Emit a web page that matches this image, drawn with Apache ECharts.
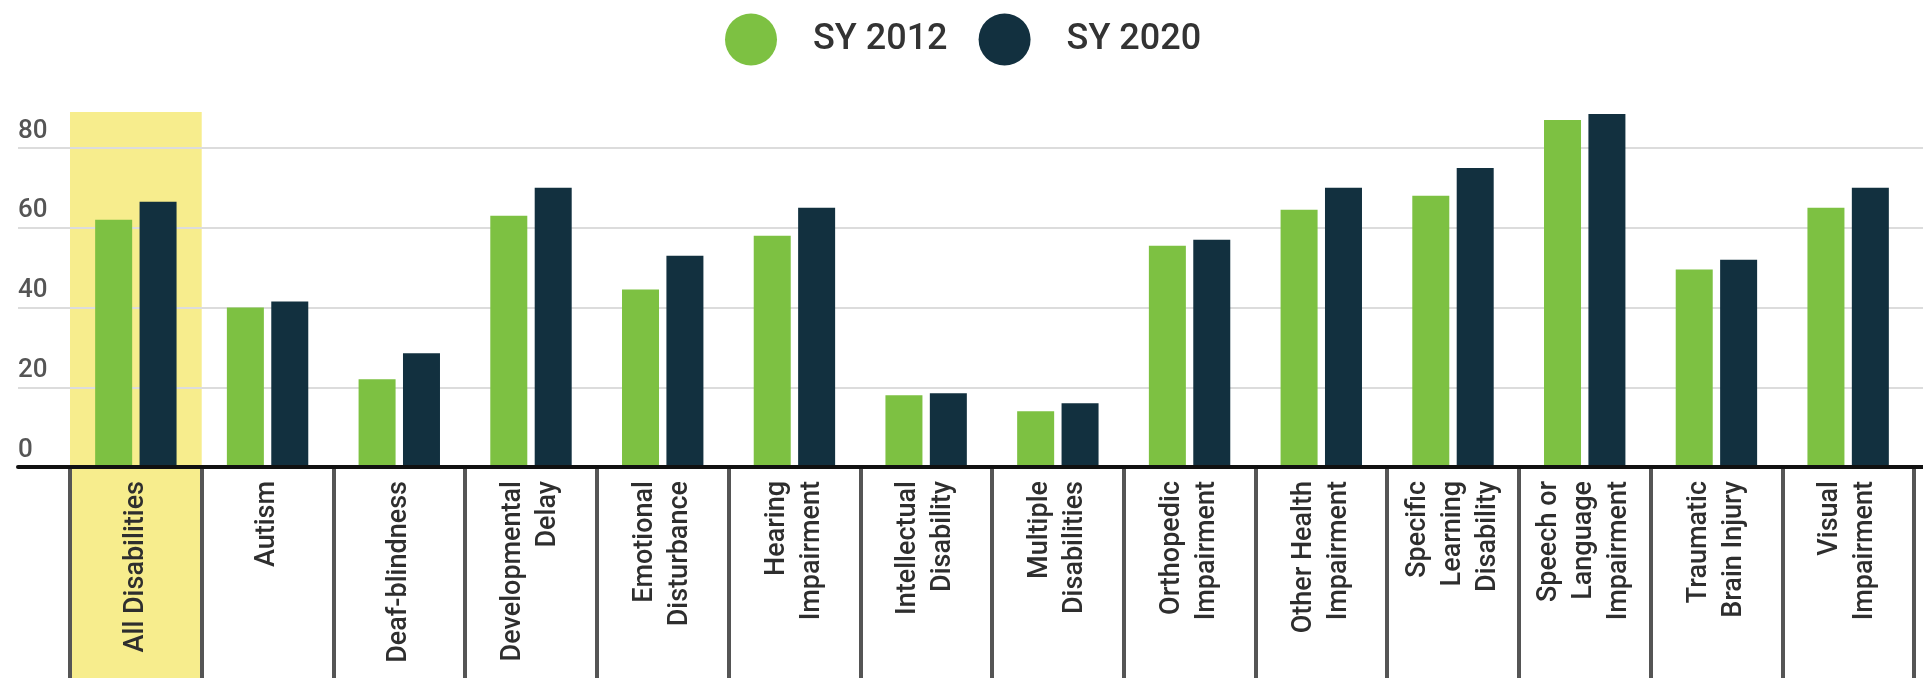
<!DOCTYPE html>
<html>
<head>
<meta charset="utf-8">
<script src="https://cdn.jsdelivr.net/npm/echarts@6/dist/echarts.min.js"></script>
<style>
  html, body { margin: 0; padding: 0; background: #ffffff; }
  #chart { width: 1923px; height: 678px; }
</style>
</head>
<body>
<div id="chart"></div>
<script>
// Disability categories (line breaks control the rotated label wrapping)
const categories = [
  'All Disabilities',
  'Autism',
  'Deaf-blindness',
  'Developmental\nDelay',
  'Emotional\nDisturbance',
  'Hearing\nImpairment',
  'Intellectual\nDisability',
  'Multiple\nDisabilities',
  'Orthopedic\nImpairment',
  'Other Health\nImpairment',
  'Specific\nLearning\nDisability',
  'Speech or\nLanguage\nImpairment',
  'Traumatic\nBrain Injury',
  'Visual\nImpairment'
];

// Series names and values (percent)
const seriesNames = ['SY 2012', 'SY 2020'];
const sy2012 = [62, 40, 22, 63, 44.5, 58, 18, 14, 55.5, 64.5, 68, 87, 49.5, 65];
const sy2020 = [66.5, 41.5, 28.5, 70, 53, 65, 18.5, 16, 57, 70, 75, 88.5, 52, 70];

// Value-axis ticks
const yTicks = [0, 20, 40, 60, 80];

// Category drawn with a highlighted column
const highlighted = ['All Disabilities'];

const GREEN = '#7dc142';
const NAVY = '#12303f';
const HIGHLIGHT = '#f7ed8d';
const FONT = 'Roboto, "Noto Sans", "DejaVu Sans", sans-serif';

const chart = echarts.init(document.getElementById('chart'), null, { renderer: 'canvas' });

const option = {
  backgroundColor: '#ffffff',
  animation: false,
  legend: {
    data: seriesNames,
    left: 725,
    top: 13.5,
    padding: 0,
    icon: 'circle',
    itemWidth: 52,
    itemHeight: 52,
    itemGap: 31,
    selectedMode: false,
    textStyle: {
      fontSize: 36, fontWeight: 500, color: '#333333', fontFamily: FONT,
      padding: [0, 0, 0, 31]
    }
  },
  grid: [
    // gridlines, value labels and the baseline
    { left: 18, right: 0, top: 148, bottom: 211, outerBoundsMode: 'none' },
    // bars and category boxes
    { left: 70, width: 1844, top: 108.1, bottom: 211, outerBoundsMode: 'none' },
    // highlight column, running down through the label box
    { left: 70, width: 1844, top: 112, bottom: 0, outerBoundsMode: 'none' }
  ],
  xAxis: [
    {
      gridIndex: 0, type: 'value', min: 0, max: 1, z: 5,
      axisLine: { show: true, onZero: false, lineStyle: { color: '#111111', width: 4 } },
      axisTick: { show: false }, axisLabel: { show: false }, splitLine: { show: false }
    },
    {
      gridIndex: 1, type: 'category', data: categories, z: 3,
      axisLine: { show: false },
      axisTick: { show: true, interval: 0, length: 230, lineStyle: { color: '#555555', width: 4 } },
      axisLabel: {
        interval: 0, rotate: 90, margin: 14,
        fontSize: 27, lineHeight: 35, fontWeight: 500,
        color: '#2e2e2e', fontFamily: FONT
      }
    },
    { gridIndex: 2, type: 'category', data: categories, show: false }
  ],
  yAxis: [
    {
      gridIndex: 0, type: 'value', z: 1,
      min: yTicks[0], max: yTicks[yTicks.length - 1], interval: yTicks[1] - yTicks[0],
      axisLine: { show: false }, axisTick: { show: false },
      splitLine: { show: true, lineStyle: { color: '#dcdcdc', width: 2 } },
      axisLabel: {
        inside: true, margin: 0, align: 'left',
        verticalAlign: 'bottom',
        verticalAlignMinLabel: 'bottom',
        verticalAlignMaxLabel: 'bottom',
        padding: [0, 0, 4, 0],
        fontSize: 26, fontWeight: 500, color: '#555555', fontFamily: FONT
      }
    },
    { gridIndex: 1, type: 'value', min: 0, max: 90, show: false },
    { gridIndex: 2, type: 'value', min: 0, max: 1, show: false }
  ],
  series: [
    {
      type: 'bar', xAxisIndex: 2, yAxisIndex: 2, z: 0, silent: true,
      barWidth: '100%',
      itemStyle: { color: HIGHLIGHT },
      data: categories.map(c => highlighted.includes(c) ? 1 : '-')
    },
    {
      name: seriesNames[0], type: 'bar', xAxisIndex: 1, yAxisIndex: 1, z: 2,
      barWidth: 37, barGap: '20%',
      itemStyle: { color: GREEN },
      data: sy2012
    },
    {
      name: seriesNames[1], type: 'bar', xAxisIndex: 1, yAxisIndex: 1, z: 2,
      barWidth: 37, barGap: '20%',
      itemStyle: { color: NAVY },
      data: sy2020
    }
  ]
};

chart.setOption(option);
</script>
</body>
</html>
